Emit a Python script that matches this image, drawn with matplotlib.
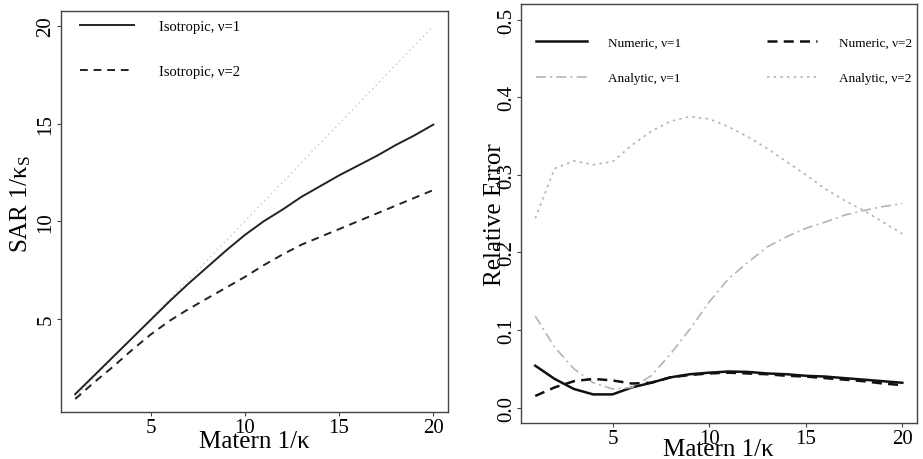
import matplotlib
matplotlib.use("Agg")
import matplotlib.pyplot as plt

plt.rcParams['font.family'] = ['Liberation Serif', 'DejaVu Serif']
plt.rcParams['mathtext.fontset'] = 'custom'
plt.rcParams['mathtext.rm'] = 'Liberation Serif'
plt.rcParams['mathtext.it'] = 'Liberation Serif:italic'

# Matern range 1/kappa
x = list(range(1, 21))

# left panel: SAR 1/kappa_S
sar_nu1 = [1.15, 2.1, 3.05, 4.0, 4.95, 5.9, 6.8, 7.65, 8.5, 9.3,
           10.0, 10.6, 11.25, 11.8, 12.35, 12.85, 13.35, 13.9, 14.4, 14.95]
sar_nu2 = [0.9, 1.75, 2.55, 3.4, 4.2, 4.9, 5.5, 6.05, 6.6, 7.15,
           7.75, 8.3, 8.8, 9.2, 9.6, 10.0, 10.4, 10.8, 11.2, 11.6]
ident = [1, 20]

# right panel: relative error
num_nu1 = [0.054, 0.037, 0.024, 0.017, 0.017, 0.026, 0.032, 0.039, 0.043, 0.045,
           0.0465, 0.046, 0.044, 0.043, 0.041, 0.040, 0.038, 0.036, 0.034, 0.032]
num_nu2 = [0.015, 0.026, 0.034, 0.037, 0.035, 0.031, 0.032, 0.039, 0.042, 0.044,
           0.045, 0.044, 0.043, 0.041, 0.040, 0.038, 0.036, 0.034, 0.031, 0.029]
ana_nu1 = [0.118, 0.078, 0.050, 0.032, 0.024, 0.026, 0.041, 0.069, 0.101, 0.136,
           0.166, 0.187, 0.207, 0.220, 0.231, 0.239, 0.248, 0.254, 0.259, 0.263]
ana_nu2 = [0.244, 0.308, 0.318, 0.313, 0.317, 0.338, 0.356, 0.369, 0.375, 0.372,
           0.362, 0.349, 0.334, 0.317, 0.300, 0.282, 0.267, 0.254, 0.239, 0.224]

fig = plt.figure(figsize=(9.23, 4.6), dpi=100)
ax1 = fig.add_axes([0.066, 0.102, 0.419, 0.872])
ax2 = fig.add_axes([0.564, 0.078, 0.4295, 0.911])

grey = '#b4b4b4'

# left
ax1.plot(ident, ident, color='#c8c8c8', lw=1.0, linestyle=(0, (1, 2.5)))
ax1.plot(x, sar_nu1, color='#222222', lw=1.4, label='Isotropic, ν=1')
ax1.plot(x, sar_nu2, color='#222222', lw=1.4, linestyle=(0, (4, 3)), label='Isotropic, ν=2')
ax1.set_xlim(0.24, 20.76)
ax1.set_ylim(0.23, 20.77)
ax1.set_xticks([5, 10, 15, 20])
ax1.set_yticks([5, 10, 15, 20])
ax1.set_xlabel('Matern 1/κ', fontsize=18)
ax1.set_ylabel('SAR 1/κ$_{\\mathrm{S}}$', fontsize=18)
ax1.xaxis.set_label_coords(0.5, -0.045)
ax1.yaxis.set_label_coords(-0.072, 0.52)
ax1.legend(loc='upper left', bbox_to_anchor=(0.049, 0.978), frameon=False, fontsize=10.5,
           handlelength=3.7, handletextpad=1.7, labelspacing=2.2, borderpad=0, borderaxespad=0)

# right
ax2.plot(x, num_nu1, color='#111111', lw=1.8, label='Numeric, ν=1')
ax2.plot(x, ana_nu1, color=grey, lw=1.2, linestyle=(0, (6, 2.5, 1.2, 2.5)), label='Analytic, ν=1')
ax2.plot(x, num_nu2, color='#111111', lw=1.8, linestyle=(0, (4, 2.5)), label='Numeric, ν=2')
ax2.plot(x, ana_nu2, color=grey, lw=1.2, linestyle=(0, (1.5, 2.5)), label='Analytic, ν=2')
ax2.set_xlim(0.24, 20.76)
ax2.set_ylim(-0.02, 0.52)
ax2.set_xticks([5, 10, 15, 20])
ax2.set_yticks([0.0, 0.1, 0.2, 0.3, 0.4, 0.5])
ax2.set_yticklabels(['0.0', '0.1', '0.2', '0.3', '0.4', '0.5'])
ax2.set_xlabel('Matern 1/κ', fontsize=18)
ax2.set_ylabel('Relative Error', fontsize=18)
ax2.xaxis.set_label_coords(0.5, -0.035)
ax2.yaxis.set_label_coords(-0.037, 0.5)
ax2.legend(loc='upper left', bbox_to_anchor=(0.040, 0.922), ncol=2, frameon=False, fontsize=9.5,
           handlelength=3.8, handletextpad=1.65, labelspacing=1.75, columnspacing=6.5,
           borderpad=0, borderaxespad=0)

for ax in (ax1, ax2):
    for s in ax.spines.values():
        s.set_color('#444444')
        s.set_linewidth(1.0)
    ax.tick_params(direction='out', length=3, width=0.8, color='#444444',
                   labelsize=15, pad=1)
    ax.tick_params(axis='y', labelrotation=90)
    for lab in ax.get_yticklabels():
        lab.set_va('center')
ax2.tick_params(axis='y', pad=0)

fig.savefig('out.png', dpi=100)
